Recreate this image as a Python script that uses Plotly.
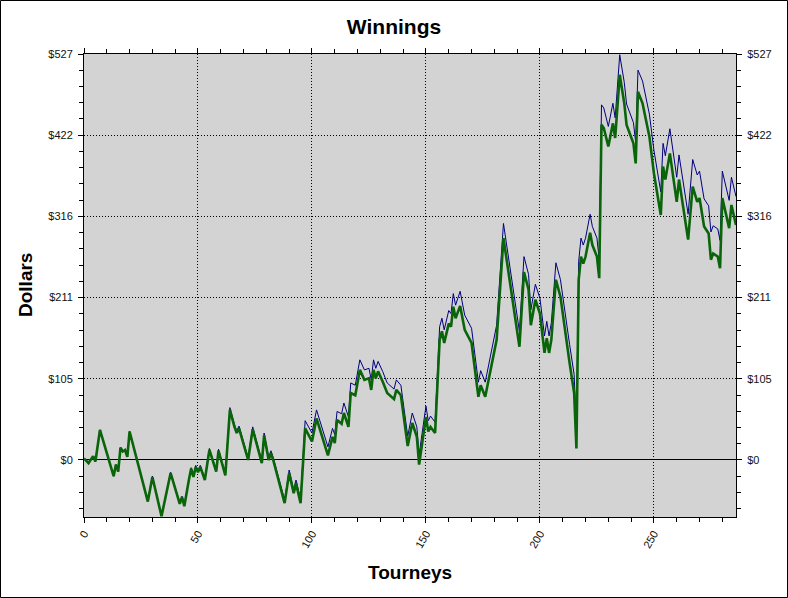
import plotly.graph_objects as go

# Tourney numbers at the line vertices
tourney = [0, 2, 4, 5, 7, 13, 14, 15, 16, 17, 18, 19, 20, 28, 30, 34, 38, 42, 43, 44, 46, 47,
           48, 49, 50, 51, 53, 55, 58, 59, 62, 64, 66, 67, 68, 72, 74, 78, 79, 81, 82, 83,
           88, 90, 92, 93, 95, 97, 100, 102, 107, 109, 110, 111, 113, 114, 116, 117, 119,
           121, 123, 125, 126, 127, 128, 129, 131, 133, 136, 137, 139, 142, 144, 146, 147,
           150, 151, 152, 154, 156, 157, 158, 160, 161, 162, 163, 165, 167, 170, 173, 174,
           176, 181, 184, 191, 193, 195, 196, 198, 200, 202, 203, 204, 205, 207, 209, 213,
           215, 216, 217, 218, 219, 220, 222, 223, 225, 226, 227, 228, 230, 232, 233, 235,
           237, 238, 241, 242, 243, 245, 247, 248, 250, 253, 254, 255, 257, 260, 261, 265,
           267, 269, 270, 272, 274, 275, 276, 278, 279, 280, 283, 284, 286]

# Green (thick) series
winnings_net = [2, -4, 5, -2, 39, -21, -6, -15, 16, 11, 13, 4, 37, -54, -22, -73, -17, -57, -48, -60, -26, -11,
                -22, -9, -16, -9, -26, 13, -15, 12, -20, 65, 43, 35, 41, 0, 40, -4, 32, 0, 9, 0,
                -56, -17, -43, -30, -56, 41, 24, 54, 6, 30, 22, 52, 47, 61, 43, 87, 84,
                117, 104, 106, 91, 117, 106, 115, 102, 87, 79, 91, 84, 18, 48, 30, -6,
                56, 37, 43, 35, 156, 167, 152, 177, 173, 199, 184, 200, 169, 152, 82, 97,
                82, 156, 288, 147, 244, 221, 175, 208, 190, 139, 158, 139, 156, 234, 212, 126,
                87, 15, 234, 264, 255, 264, 295, 279, 264, 236, 435, 431, 407, 437, 418, 500,
                463, 435, 411, 385, 478, 463, 437, 420, 372, 318, 381, 364, 398, 335, 364, 286,
                355, 335, 340, 303, 294, 260, 268, 264, 249, 340, 301, 331, 305]

# Navy (thin) series
winnings_gross = [2, -4, 5, -2, 39, -21, -6, -15, 16, 11, 13, 4, 37, -53, -21, -72, -16, -56, -47, -59, -25, -10,
                  -20, -7, -14, -7, -24, 15, -13, 14, -18, 68, 46, 38, 44, 3, 43, -1, 35, 3, 12, 3,
                  -52, -13, -39, -26, -51, 51, 35, 65, 17, 41, 33, 63, 60, 74, 56, 100, 97,
                  130, 117, 119, 104, 130, 119, 128, 115, 100, 92, 104, 97, 31, 61, 43, 7,
                  70, 51, 57, 49, 173, 184, 169, 194, 190, 216, 201, 219, 188, 171, 101, 116,
                  101, 175, 307, 167, 264, 241, 195, 228, 210, 161, 180, 161, 178, 256, 234, 150,
                  111, 39, 258, 288, 279, 288, 319, 303, 288, 260, 461, 457, 433, 463, 444, 526,
                  490, 462, 438, 412, 506, 492, 466, 449, 402, 348, 411, 395, 430, 367, 396, 319,
                  390, 370, 375, 339, 330, 296, 304, 300, 285, 375, 337, 367, 342]

y_tickvals = [0, 105.4, 210.8, 316.2, 421.6, 527]
y_ticktext = ["$0", "$105", "$211", "$316", "$422", "$527"]
x_range = [0, 286]
y_range = [-74, 527]

FONT = "Liberation Sans, Arial, sans-serif"
GRID_DASH = "1px,2px"

fig = go.Figure()
fig.add_trace(go.Scatter(x=tourney, y=winnings_gross, mode="lines",
                         line=dict(color="#000080", width=1), showlegend=False,
                         xaxis="x", yaxis="y"))
fig.add_trace(go.Scatter(x=tourney, y=winnings_net, mode="lines",
                         line=dict(color="#0A640A", width=2.6), showlegend=False,
                         xaxis="x2", yaxis="y2"))

common_x = dict(range=x_range, dtick=50, tick0=0, ticks="outside", ticklen=5,
                tickcolor="black", tickwidth=1, showline=True, linecolor="black",
                linewidth=1, zeroline=False,
                minor=dict(dtick=10, tick0=0, ticks="outside", ticklen=4,
                           tickcolor="black", showgrid=False))
common_y = dict(range=y_range, tickmode="array", tickvals=y_tickvals, ticktext=y_ticktext,
                ticks="outside", ticklen=5, tickcolor="black", tickwidth=1,
                showline=True, linecolor="black", linewidth=1,
                tickfont=dict(family=FONT, size=11, color="#111"),
                minor=dict(dtick=21.08, tick0=0, ticks="outside", ticklen=4,
                           tickcolor="black", showgrid=False))

fig.update_layout(
    width=788, height=598,
    margin=dict(l=84, r=52, t=54, b=81),
    paper_bgcolor="white", plot_bgcolor="#D3D3D3",
    font=dict(family=FONT, color="black"),
    title=dict(text="<b>Winnings</b>", x=0.5, xanchor="center",
               y=1 - 27 / 598, yref="container", yanchor="middle",
               font=dict(family=FONT, size=21, color="black")),
    xaxis=dict(**common_x, side="bottom", anchor="y", tickangle=-60,
               tickfont=dict(family=FONT, size=11, color="#111"),
               showgrid=True, gridcolor="black", griddash=GRID_DASH, gridwidth=1),
    xaxis2=dict(**common_x, side="top", overlaying="x", anchor="y",
                showticklabels=False, showgrid=False),
    yaxis=dict(**common_y, side="left", anchor="x", ticklabelstandoff=3,
               showgrid=True, gridcolor="black", griddash=GRID_DASH, gridwidth=1,
               zeroline=True, zerolinecolor="black", zerolinewidth=1),
    yaxis2=dict(**common_y, side="right", overlaying="y", anchor="x",
                ticklabelstandoff=3, showgrid=False, zeroline=False),
    annotations=[
        dict(text="<b>Tourneys</b>", xref="paper", yref="paper", x=0.5,
             y=-(572 - 517) / 463, xanchor="center", yanchor="middle",
             showarrow=False, font=dict(family=FONT, size=19, color="black")),
        dict(text="<b>Dollars</b>", xref="paper", yref="paper",
             x=(25 - 84) / 652, y=(517 - 285) / 463, textangle=-90,
             xanchor="center", yanchor="middle",
             showarrow=False, font=dict(family=FONT, size=19, color="black")),
    ],
    shapes=[dict(type="rect", xref="paper", yref="paper",
                 x0=(0.5 - 84) / 652, x1=(787.5 - 84) / 652,
                 y0=(517 - 597.5) / 463, y1=(517 - 0.5) / 463,
                 line=dict(color="black", width=1), fillcolor="rgba(0,0,0,0)",
                 layer="above")],
)

fig.write_html("out.html",
               config={"displayModeBar": False},
               post_script="document.body.style.margin='0';document.body.style.overflow='hidden';")
